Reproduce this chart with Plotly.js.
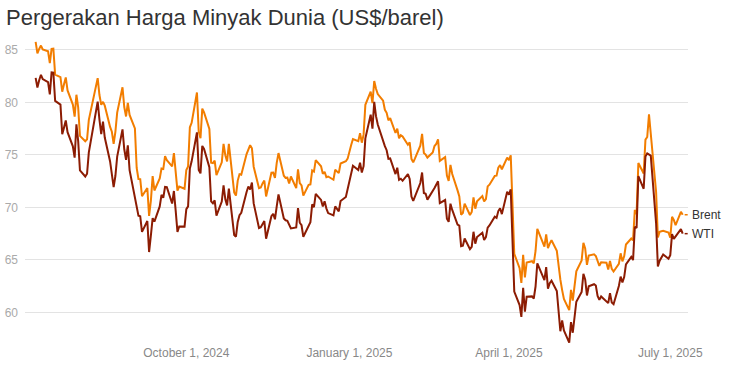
<!DOCTYPE html>
<html>
<head>
<meta charset="utf-8">
<script src="https://cdn.plot.ly/plotly-3.0.1.min.js"></script>
<style>html,body{margin:0;padding:0;background:#fff}#chart{width:730px;height:377px}</style>
</head>
<body>
<div id="chart"></div>
<script>
const chartTitle = "Pergerakan Harga Minyak Dunia (US$/barel)";
const seriesNames = ["Brent", "WTI"];
const tickDates = ["2024-10-01", "2025-01-01", "2025-04-01", "2025-07-01"];
const tickLabels = ["October 1, 2024", "January 1, 2025", "April 1, 2025", "July 1, 2025"];
const yTicks = [60, 65, 70, 75, 80, 85];

const dates = [
"2024-07-08","2024-07-09","2024-07-10","2024-07-11","2024-07-12","2024-07-15","2024-07-16","2024-07-17","2024-07-18","2024-07-19","2024-07-22","2024-07-23","2024-07-24","2024-07-25","2024-07-26","2024-07-29","2024-07-30","2024-07-31",
"2024-08-01","2024-08-02","2024-08-05","2024-08-06","2024-08-07","2024-08-08","2024-08-09","2024-08-12","2024-08-13","2024-08-14","2024-08-15","2024-08-16","2024-08-19","2024-08-20","2024-08-21","2024-08-22","2024-08-23","2024-08-26","2024-08-27","2024-08-28","2024-08-29","2024-08-30",
"2024-09-02","2024-09-03","2024-09-04","2024-09-05","2024-09-06","2024-09-09","2024-09-10","2024-09-11","2024-09-12","2024-09-13","2024-09-16","2024-09-17","2024-09-18","2024-09-19","2024-09-20","2024-09-23","2024-09-24","2024-09-25","2024-09-26","2024-09-27","2024-09-30",
"2024-10-01","2024-10-02","2024-10-03","2024-10-04","2024-10-07","2024-10-08","2024-10-09","2024-10-10","2024-10-11","2024-10-14","2024-10-15","2024-10-16","2024-10-17","2024-10-18","2024-10-21","2024-10-22","2024-10-23","2024-10-24","2024-10-25","2024-10-28","2024-10-29","2024-10-30","2024-10-31",
"2024-11-01","2024-11-04","2024-11-05","2024-11-06","2024-11-07","2024-11-08","2024-11-11","2024-11-12","2024-11-13","2024-11-14","2024-11-15","2024-11-18","2024-11-19","2024-11-20","2024-11-21","2024-11-22","2024-11-25","2024-11-26","2024-11-27","2024-11-28","2024-11-29",
"2024-12-02","2024-12-03","2024-12-04","2024-12-05","2024-12-06","2024-12-09","2024-12-10","2024-12-11","2024-12-12","2024-12-13","2024-12-16","2024-12-17","2024-12-18","2024-12-19","2024-12-20","2024-12-23","2024-12-24","2024-12-26","2024-12-27","2024-12-30","2024-12-31",
"2025-01-02","2025-01-03","2025-01-06","2025-01-07","2025-01-08","2025-01-09","2025-01-10","2025-01-13","2025-01-14","2025-01-15","2025-01-16","2025-01-17","2025-01-20","2025-01-21","2025-01-22","2025-01-23","2025-01-24","2025-01-27","2025-01-28","2025-01-29","2025-01-30","2025-01-31",
"2025-02-03","2025-02-04","2025-02-05","2025-02-06","2025-02-07","2025-02-10","2025-02-11","2025-02-12","2025-02-13","2025-02-14","2025-02-17","2025-02-18","2025-02-19","2025-02-20","2025-02-21","2025-02-24","2025-02-25","2025-02-26","2025-02-27","2025-02-28",
"2025-03-03","2025-03-04","2025-03-05","2025-03-06","2025-03-07","2025-03-10","2025-03-11","2025-03-12","2025-03-13","2025-03-14","2025-03-17","2025-03-18","2025-03-19","2025-03-20","2025-03-21","2025-03-24","2025-03-25","2025-03-26","2025-03-27","2025-03-28","2025-03-31",
"2025-04-01","2025-04-02","2025-04-03","2025-04-04","2025-04-07","2025-04-08","2025-04-09","2025-04-10","2025-04-11","2025-04-14","2025-04-15","2025-04-16","2025-04-17","2025-04-21","2025-04-22","2025-04-23","2025-04-24","2025-04-25","2025-04-28","2025-04-29","2025-04-30",
"2025-05-01","2025-05-02","2025-05-05","2025-05-06","2025-05-07","2025-05-08","2025-05-09","2025-05-12","2025-05-13","2025-05-14","2025-05-15","2025-05-16","2025-05-19","2025-05-20","2025-05-21","2025-05-22","2025-05-23","2025-05-26","2025-05-27","2025-05-28","2025-05-29","2025-05-30",
"2025-06-02","2025-06-03","2025-06-04","2025-06-05","2025-06-06","2025-06-09","2025-06-10","2025-06-11","2025-06-12","2025-06-13","2025-06-16","2025-06-17","2025-06-18","2025-06-19","2025-06-20","2025-06-23","2025-06-24","2025-06-25","2025-06-26","2025-06-27","2025-06-30",
"2025-07-01","2025-07-02","2025-07-03","2025-07-04","2025-07-07","2025-07-08"
];

const brent = [
85.75,84.66,85.08,85.40,85.03,84.85,83.73,85.08,85.11,82.63,82.40,81.01,81.71,82.37,81.13,79.78,78.63,80.72,
79.52,76.81,76.30,76.48,78.33,79.16,79.66,82.30,80.69,79.76,80.04,79.68,77.66,77.20,76.05,77.22,79.02,81.43,79.55,78.65,79.94,78.80,
77.52,73.75,72.70,72.69,71.06,71.84,69.19,70.61,72.97,71.61,72.75,73.70,73.65,74.88,74.49,73.90,75.17,73.46,71.60,71.98,71.77,
73.56,73.90,77.62,78.05,80.93,77.18,76.58,79.40,79.04,77.46,74.25,74.22,74.45,73.06,74.29,76.04,74.96,74.38,76.05,71.42,71.12,72.55,73.16,
73.10,75.08,75.53,75.92,75.63,73.87,71.83,71.89,72.28,72.56,71.04,73.30,73.31,72.81,74.23,75.17,73.01,72.81,72.83,72.28,72.94,
71.83,73.62,72.31,72.09,71.12,72.14,72.19,73.52,73.41,74.49,73.91,73.19,73.39,72.88,72.94,72.63,73.58,73.26,74.17,74.39,74.64,
75.93,76.51,76.30,77.05,76.16,76.92,79.76,81.01,79.92,82.03,81.29,80.79,80.15,79.29,79.00,78.29,78.50,77.08,77.49,76.58,76.87,76.76,
75.96,76.20,74.61,74.29,74.66,75.87,77.00,75.18,75.02,74.74,75.22,75.84,76.04,76.48,74.43,74.78,73.02,72.53,74.04,73.18,
71.62,71.04,69.30,69.46,70.36,69.28,69.56,70.95,69.88,70.58,71.07,70.56,70.78,72.00,72.16,73.00,73.02,73.79,74.03,73.63,74.74,
74.49,74.95,70.14,65.58,64.21,62.82,65.48,63.33,64.76,64.88,64.67,65.85,67.96,66.26,67.44,66.12,66.55,66.87,65.86,64.25,63.12,
62.13,61.29,60.23,62.15,61.12,62.84,63.91,64.96,66.63,66.09,64.53,65.41,65.54,65.38,64.91,64.44,64.78,64.74,64.09,64.90,64.15,63.90,
64.63,65.63,64.86,65.34,66.47,67.04,66.87,69.77,69.36,74.23,73.23,76.45,76.70,78.85,77.01,71.48,67.14,67.68,67.73,67.77,67.61,
67.11,69.11,68.80,68.30,69.58,69.30
];

const wti = [
82.33,81.41,82.10,82.62,82.21,81.91,80.76,82.85,82.82,80.13,79.78,76.96,77.59,78.28,77.16,75.81,74.73,77.91,
76.31,73.52,72.94,73.20,75.23,76.19,76.84,80.06,78.35,76.98,78.16,76.65,74.37,73.17,71.93,73.01,74.83,77.42,75.53,74.52,75.91,73.55,
null,70.34,69.20,69.15,67.67,68.71,65.75,67.31,68.97,68.65,70.09,71.19,70.91,71.95,71.92,70.37,71.56,69.69,67.67,68.18,68.17,
69.83,70.10,73.71,74.38,77.14,73.57,73.24,75.85,75.56,73.83,70.58,70.39,70.67,69.22,70.56,72.09,70.77,70.19,71.78,67.38,67.21,68.61,69.26,
69.49,71.47,71.99,71.69,72.36,70.38,68.04,68.12,68.43,68.70,67.02,69.16,69.39,68.87,70.10,71.24,68.94,68.77,68.72,null,68.00,
68.10,69.94,68.54,68.30,67.20,68.37,68.59,70.29,70.02,71.29,70.71,70.08,70.58,69.91,69.46,69.24,70.10,69.62,70.60,70.99,71.72,
73.13,73.96,73.56,74.25,73.32,73.92,76.57,78.82,77.50,80.04,78.68,77.88,null,75.83,75.44,74.62,74.66,73.17,73.77,72.62,72.73,72.53,
73.16,72.70,71.03,70.61,71.00,72.32,73.32,71.37,71.29,70.74,null,71.85,72.25,72.48,70.40,70.70,68.93,68.62,70.35,69.76,
68.37,68.26,66.31,66.36,67.04,66.03,66.25,67.68,66.55,67.18,67.58,66.90,67.16,68.07,68.28,69.11,69.00,69.65,69.92,69.36,71.48,
71.20,71.71,66.95,61.99,60.70,59.58,62.35,60.07,61.50,61.53,61.33,62.47,64.68,63.08,64.31,62.27,62.79,63.02,62.05,60.42,58.21,
59.24,58.29,57.13,59.09,58.07,59.91,61.02,61.95,63.67,63.15,61.62,62.49,62.69,62.56,61.57,61.20,61.53,null,60.89,61.84,60.94,60.79,
62.52,63.41,62.85,63.37,64.58,65.29,64.98,68.15,68.04,72.98,71.77,74.84,75.14,null,74.93,68.51,64.37,64.92,65.24,65.52,65.11,
65.45,67.45,67.00,null,67.93,67.50
];

const colors = ["#f27d00", "#8c1c03"];
const seriesValues = [brent, wti];

function lastPoint(vals) {
  for (let i = vals.length - 1; i >= 0; i--) if (vals[i] !== null) return [dates[i], vals[i]];
}

const traces = seriesValues.map((vals, k) => ({
  type: "scatter", mode: "lines", name: seriesNames[k],
  x: dates, y: vals, connectgaps: true,
  line: {color: colors[k], width: 2},
  hoverinfo: "skip"
}));

const annotations = [];
const shapes = [];
seriesValues.forEach((vals, k) => {
  const [lx, ly] = lastPoint(vals);
  annotations.push({
    x: lx, y: ly, xref: "x", yref: "y", text: seriesNames[k], showarrow: false,
    xanchor: "left", yanchor: "middle", xshift: 7,
    font: {family: "Liberation Sans, Arial, sans-serif", size: 12, color: "#333"}
  });
  shapes.push({
    type: "line", xref: "x", yref: "y", xsizemode: "pixel", xanchor: lx,
    x0: 2, x1: 8, y0: ly, y1: ly,
    line: {color: colors[k], width: 1.5, dash: "dot"}
  });
});

const layout = {
  width: 730, height: 377,
  margin: {l: 25, r: 42, t: 34, b: 33},
  paper_bgcolor: "#fff", plot_bgcolor: "#fff",
  showlegend: false,
  title: {
    text: chartTitle, xref: "container", yref: "container",
    x: 6 / 730, xanchor: "left", y: 1 - 17 / 377, yanchor: "middle",
    font: {family: "Liberation Sans, Arial, sans-serif", size: 22, color: "#333"}
  },
  xaxis: {
    type: "date", range: ["2024-07-02", "2025-07-11"],
    tickvals: tickDates, ticktext: tickLabels,
    showgrid: false, showline: false, zeroline: false, ticks: "",
    tickfont: {family: "Liberation Sans, Arial, sans-serif", size: 12, color: "#888"}
  },
  yaxis: {
    range: [57, 86.5], tickvals: yTicks, ticktext: yTicks.map(String),
    showgrid: true, gridcolor: "#e3e3e3", gridwidth: 1,
    zeroline: false, showline: false, ticks: "", ticklabelstandoff: 6,
    tickfont: {family: "Liberation Sans, Arial, sans-serif", size: 12, color: "#aaa"}
  },
  annotations: annotations,
  shapes: shapes
};

Plotly.newPlot("chart", traces, layout, {staticPlot: true, displayModeBar: false});
</script>
</body>
</html>
